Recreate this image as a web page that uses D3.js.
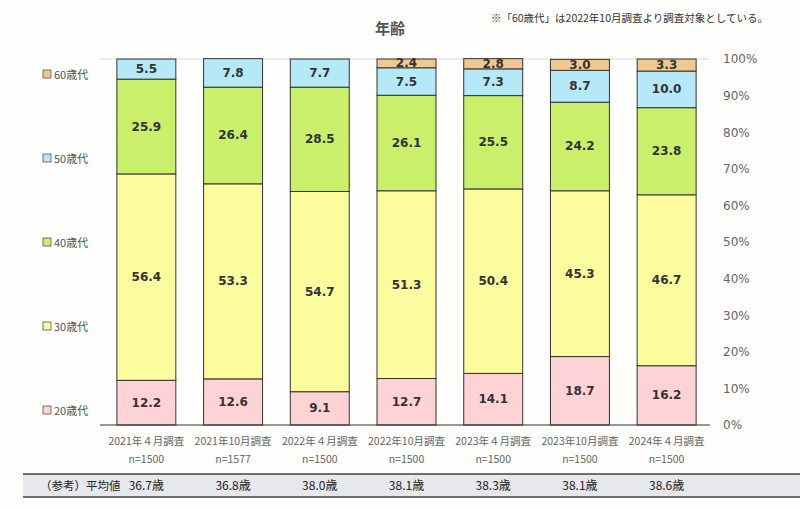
<!DOCTYPE html>
<html><head><meta charset="utf-8">
<script src="https://cdn.jsdelivr.net/npm/d3@7"></script>
<style>
body{margin:0;background:#fdfdfb;font-family:"Noto Sans CJK JP","Noto Sans",sans-serif;}
</style></head><body><div id="chart"></div>
<script>
const surveys = ['2021年４月調査','2021年10月調査','2022年４月調査','2022年10月調査','2023年４月調査','2023年10月調査','2024年４月調査'];
const sampleSizes = ['n=1500','n=1577','n=1500','n=1500','n=1500','n=1500','n=1500'];
const ageGroups = ['20歳代','30歳代','40歳代','50歳代','60歳代'];
const age20 = [12.2,12.6,9.1,12.7,14.1,18.7,16.2];
const age30 = [56.4,53.3,54.7,51.3,50.4,45.3,46.7];
const age40 = [25.9,26.4,28.5,26.1,25.5,24.2,23.8];
const age50 = [5.5,7.8,7.7,7.5,7.3,8.7,10.0];
const age60 = [0,0,0,2.4,2.8,3.0,3.3];
const averages = ['36.7歳','36.8歳','38.0歳','38.1歳','38.3歳','38.1歳','38.6歳'];
const colors = ['#ffd2d6','#fafc9e','#c9ef6b','#b6e9f8','#f1c990'];

const W = 800, H = 509;
const svg = d3.select('#chart').append('svg').attr('width', W).attr('height', H);

const series = [age20, age30, age40, age50, age60];
const rows = surveys.map((s, i) => {
    const r = { survey: s };
    ageGroups.forEach((g, k) => r[g] = series[k][i]);
    return r;
});
const stacked = d3.stack().keys(ageGroups)(rows);

const x = d3.scaleBand().domain(surveys).range([103, 710]).paddingInner(0.32).paddingOuter(0.16);
const y = d3.scaleLinear().domain([0, 100]).range([425, 59]);

svg.append('line').attr('x1', 100).attr('x2', 710).attr('y1', 59).attr('y2', 59)
    .attr('stroke', '#ddd');

stacked.forEach((layer, k) => {
    const g = svg.append('g');
    g.selectAll('rect').data(layer).enter().append('rect')
        .attr('x', d => x(d.data.survey))
        .attr('y', d => y(d[1]))
        .attr('width', x.bandwidth())
        .attr('height', d => y(d[0]) - y(d[1]))
        .attr('fill', colors[k])
        .attr('stroke', d => d[1] - d[0] > 0 ? '#333' : 'none')
        .attr('stroke-width', 1);
    g.selectAll('text').data(layer.filter(d => d[1] - d[0] > 0)).enter().append('text')
        .attr('x', d => x(d.data.survey) + x.bandwidth() / 2)
        .attr('y', d => (y(d[0]) + y(d[1])) / 2 + 4)
        .attr('text-anchor', 'middle')
        .attr('font-size', 12).attr('font-weight', 'bold').attr('fill', '#333')
        .attr('font-family', 'DejaVu Sans')
        .text(d => (d[1] - d[0]).toFixed(1));
});

svg.append('line').attr('x1', 100).attr('x2', 710).attr('y1', 425).attr('y2', 425)
    .attr('stroke', '#333');

const yAxis = svg.append('g').attr('transform', 'translate(720,0)')
    .call(d3.axisRight(y).ticks(10).tickSize(0).tickFormat(d => d + '%'));
yAxis.select('.domain').remove();
yAxis.selectAll('text').attr('font-size', 12).attr('fill', '#666').attr('font-family', 'DejaVu Sans');

const xl = svg.append('g');
xl.selectAll('.s').data(surveys).enter().append('text')
    .attr('x', d => x(d) + x.bandwidth() / 2).attr('y', 445)
    .attr('text-anchor', 'middle').attr('font-size', 10.5).attr('fill', '#666').text(d => d);
xl.selectAll('.n').data(surveys).enter().append('text')
    .attr('x', d => x(d) + x.bandwidth() / 2).attr('y', 463)
    .attr('text-anchor', 'middle').attr('font-size', 10.5).attr('fill', '#666')
    .text((d, i) => sampleSizes[i]);

const legendY = d3.scalePoint().domain(ageGroups).range([411, 75]);
const lg = svg.append('g');
ageGroups.forEach((g, k) => {
    lg.append('rect').attr('x', 43).attr('y', legendY(g) - 5).attr('width', 8).attr('height', 8)
        .attr('fill', colors[k]).attr('stroke', '#555').attr('stroke-width', 0.8);
    lg.append('text').attr('x', 54).attr('y', legendY(g) + 4).attr('font-size', 11)
        .attr('fill', '#555').text(g);
});

svg.append('text').attr('x', 390).attr('y', 34).attr('text-anchor', 'middle')
    .attr('font-size', 15).attr('font-weight', 'bold').attr('fill', '#555').text('年齢');
svg.append('text').attr('x', 768).attr('y', 22).attr('text-anchor', 'end')
    .attr('font-size', 10.5).attr('fill', '#333').text('※「60歳代」は2022年10月調査より調査対象としている。');

svg.append('rect').attr('x', 23).attr('y', 474).attr('width', 777).attr('height', 23).attr('fill', '#e7e8ec');
svg.append('line').attr('x1', 23).attr('x2', 800).attr('y1', 474).attr('y2', 474).attr('stroke', '#444').attr('stroke-width', 1.5);
svg.append('line').attr('x1', 23).attr('x2', 800).attr('y1', 497).attr('y2', 497).attr('stroke', '#444').attr('stroke-width', 1.5);
svg.append('text').attr('x', 40).attr('y', 490).attr('font-size', 11.5).attr('fill', '#222').text('（参考）平均値');
svg.selectAll('.avg').data(surveys).enter().append('text')
    .attr('x', d => x(d) + x.bandwidth() / 2).attr('y', 490)
    .attr('text-anchor', 'middle').attr('font-size', 12).attr('fill', '#222')
    .text((d, i) => averages[i]);
</script></body></html>
